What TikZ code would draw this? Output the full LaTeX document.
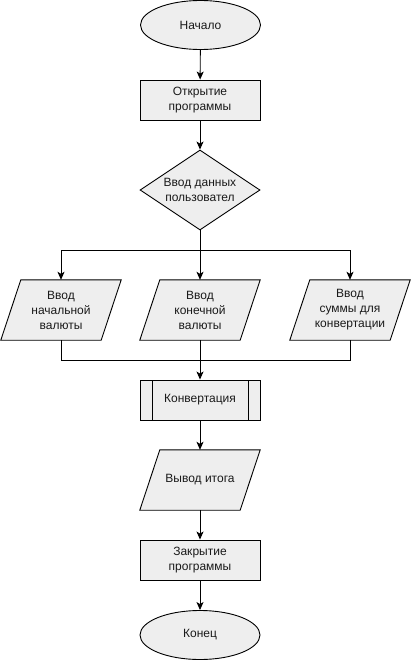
\documentclass[tikz,border=0pt]{standalone}
\usepackage{fontspec}
\setmainfont{Liberation Sans}
\usetikzlibrary{shapes.geometric,arrows.meta,backgrounds,calc}
\definecolor{fillg}{HTML}{EEEEEE}
\definecolor{txt}{HTML}{1A1A1A}
\tikzset{
  base/.style={draw=black, fill=fillg, line width=0.9pt, inner sep=0pt, align=center,
    font=\fontsize{12}{15}\selectfont, text=txt},
  term/.style={base, ellipse, minimum width=120pt, minimum height=49pt},
  proc/.style={base, rectangle, minimum width=120pt, minimum height=40pt},
  decis/.style={base, diamond, minimum width=120pt, minimum height=80pt, aspect=1.5},
  io/.style={inner sep=0pt, align=center, font=\fontsize{12}{15}\selectfont, text=txt,
    minimum width=120pt, minimum height=60pt},
  subproc/.style={proc, path picture={
    \draw[line width=0.9pt] ([xshift=12pt]path picture bounding box.north west) -- ([xshift=12pt]path picture bounding box.south west);
    \draw[line width=0.9pt] ([xshift=-12pt]path picture bounding box.north east) -- ([xshift=-12pt]path picture bounding box.south east);}},
  arr/.style={line width=0.9pt, -{Stealth[length=8pt,width=7pt,inset=2pt]}},
  ln/.style={line width=0.9pt},
}
\begin{document}
\begin{tikzpicture}[x=1pt,y=1pt]
\useasboundingbox (0,0) rectangle (411,-661);
\node[term] (start) at (200.5,-25) {Начало};
\node[proc] (open) at (200,-100) {Открытие\\программы};
\node[decis] (dec) at (200,-190) {Ввод данных\\пользовател};
\node[io] (p1) at (61,-310) {Ввод\\начальной\\валюты};
\node[io] (p2) at (200,-310) {Ввод\\конечной\\валюты};
\node[io] (p3) at (350,-310) {Ввод\\суммы для\\конвертации};
\node[subproc] (conv) at (200,-400) {Конвертация};
\node[io] (out) at (200,-480) {Вывод итога};
\node[proc] (close) at (200,-560) {Закрытие\\программы};
\node[term] (end) at (200,-635) {Конец};
\begin{scope}[on background layer]
\foreach \n in {p1,p2,p3,out}{
  \draw[line width=0.9pt, fill=fillg] (\n.south west) -- ($(\n.south east)+(-20pt,0)$) -- (\n.north east) -- ($(\n.north west)+(20pt,0)$) -- cycle;
}
\end{scope}
\coordinate (j1) at (200,-250);
\coordinate (j2) at (200,-360);
\draw[arr] (start) -- (open);
\draw[arr] (open) -- (dec);
\draw[ln] (dec.south) -- (j1);
\draw[arr] (j1) -| (p1.north);
\draw[arr] (j1) -- (p2.north);
\draw[arr] (j1) -| (p3.north);
\draw[ln] (p1.south) |- (j2);
\draw[ln] (p3.south) |- (j2);
\draw[arr] (p2.south) -- (conv.north);
\draw[arr] (conv) -- (out);
\draw[arr] (out) -- (close);
\draw[arr] (close) -- (end);
\end{tikzpicture}
\end{document}
